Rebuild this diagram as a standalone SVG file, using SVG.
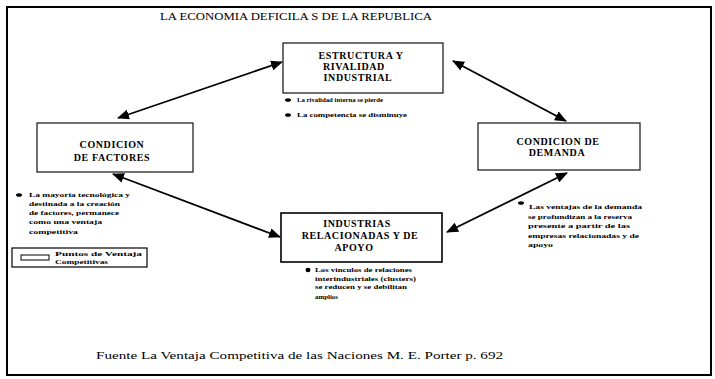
<svg xmlns="http://www.w3.org/2000/svg" width="715" height="379" viewBox="0 0 715 379">
<style>
.frame{fill:none;stroke:#000;stroke-width:2}
.box{fill:#fff;stroke:#222;stroke-width:1.3}
.bt{font-family:"Liberation Serif",serif;font-weight:bold;font-size:10px;letter-spacing:0.6px;fill:#000;text-anchor:middle}
.sm{font-family:"Liberation Serif",serif;font-weight:bold;font-size:6.5px;fill:#000}
.ttl{font-family:"Liberation Serif",serif;font-size:10px;fill:#000}
.con{stroke:#000;stroke-width:1.8;fill:none;marker-start:url(#ah);marker-end:url(#ah)}
.dot{fill:#000}
</style>
<defs>
<marker id="ah" viewBox="0 0 12 10" refX="11" refY="5" markerWidth="12" markerHeight="10" markerUnits="userSpaceOnUse" orient="auto-start-reverse">
<path d="M0,0 L12,5 L0,10 Z" fill="#000"/>
</marker>
</defs>
<rect class="frame" x="7" y="7" width="704" height="368"/>
<text class="ttl" x="160" y="20" textLength="272" lengthAdjust="spacingAndGlyphs">LA ECONOMIA DEFICILA S DE LA REPUBLICA</text>

<g id="connectors">
<line class="con" x1="118" y1="118" x2="282" y2="62"/>
<line class="con" x1="453" y1="61" x2="566" y2="121"/>
<line class="con" x1="113" y1="174" x2="280" y2="237"/>
<line class="con" x1="567" y1="173" x2="447" y2="232"/>
</g>

<g id="estructura">
<rect class="box" x="283" y="43" width="160" height="50"/>
<text class="bt" x="361" y="59">ESTRUCTURA Y</text>
<text class="bt" x="354" y="70">RIVALIDAD</text>
<text class="bt" x="358" y="81">INDUSTRIAL</text>
<ellipse class="dot" cx="288" cy="100" rx="3" ry="1.8"/>
<text class="sm" x="297" y="102" textLength="86" lengthAdjust="spacingAndGlyphs">La rivalidad interna se pierde</text>
<ellipse class="dot" cx="288" cy="115" rx="3" ry="1.8"/>
<text class="sm" x="297" y="117" textLength="110" lengthAdjust="spacingAndGlyphs">La competencia se disminuye</text>
</g>

<g id="factores">
<rect class="box" x="37" y="123" width="156" height="49"/>
<text class="bt" x="112" y="148">CONDICION</text>
<text class="bt" x="112" y="161">DE FACTORES</text>
<ellipse class="dot" cx="19" cy="195" rx="3" ry="1.8"/>
<text class="sm" x="29" y="197" textLength="101" lengthAdjust="spacingAndGlyphs">La mayoría tecnológica y</text>
<text class="sm" x="29" y="206" textLength="91" lengthAdjust="spacingAndGlyphs">destinada a la creación</text>
<text class="sm" x="29" y="215" textLength="90" lengthAdjust="spacingAndGlyphs">de factores, permanece</text>
<text class="sm" x="29" y="224" textLength="73" lengthAdjust="spacingAndGlyphs">como una ventaja</text>
<text class="sm" x="29" y="234" textLength="49" lengthAdjust="spacingAndGlyphs">competitiva</text>
</g>

<g id="leyenda">
<rect x="12" y="248" width="135" height="19" fill="#fff" stroke="#000" stroke-width="1.2"/>
<rect x="21" y="255" width="28" height="5" fill="#fff" stroke="#000" stroke-width="1"/>
<text class="sm" x="55" y="256" textLength="87" lengthAdjust="spacingAndGlyphs">Puntos de Ventaja</text>
<text class="sm" x="55" y="264" textLength="53" lengthAdjust="spacingAndGlyphs">Competitivas</text>
</g>

<g id="demanda">
<rect class="box" x="478" y="123" width="162" height="47"/>
<text class="bt" x="558" y="145">CONDICION DE</text>
<text class="bt" x="557" y="156">DEMANDA</text>
<ellipse class="dot" cx="521" cy="203" rx="3" ry="1.8"/>
<text class="sm" x="529" y="209" textLength="113" lengthAdjust="spacingAndGlyphs">Las ventajas de la demanda</text>
<text class="sm" x="528" y="219" textLength="104" lengthAdjust="spacingAndGlyphs">se profundizan a la reserva</text>
<text class="sm" x="528" y="228" textLength="102" lengthAdjust="spacingAndGlyphs">presente a partir de las</text>
<text class="sm" x="528" y="238" textLength="111" lengthAdjust="spacingAndGlyphs">empresas relacionadas y de</text>
<text class="sm" x="528" y="247" textLength="25" lengthAdjust="spacingAndGlyphs">apoyo</text>
</g>

<g id="industrias">
<rect x="281" y="213" width="161" height="49" fill="#fff" stroke="#000" stroke-width="1.6"/>
<text class="bt" x="357" y="227">INDUSTRIAS</text>
<text class="bt" x="360" y="239">RELACIONADAS Y DE</text>
<text class="bt" x="354" y="251">APOYO</text>
<ellipse class="dot" cx="308" cy="270" rx="2.5" ry="2.2"/>
<text class="sm" x="315" y="272" textLength="97" lengthAdjust="spacingAndGlyphs">Los vínculos de relaciones</text>
<text class="sm" x="315" y="281" textLength="101" lengthAdjust="spacingAndGlyphs">interindustriales (clusters)</text>
<text class="sm" x="315" y="289" textLength="92" lengthAdjust="spacingAndGlyphs">se reducen y se debilitan</text>
<text class="sm" x="315" y="299" textLength="23" lengthAdjust="spacingAndGlyphs">amplios</text>
</g>

<text class="ttl" x="96" y="359" font-size="10.5" textLength="407" lengthAdjust="spacingAndGlyphs">Fuente  La Ventaja Competitiva de las Naciones  M. E. Porter  p. 692</text>
</svg>
